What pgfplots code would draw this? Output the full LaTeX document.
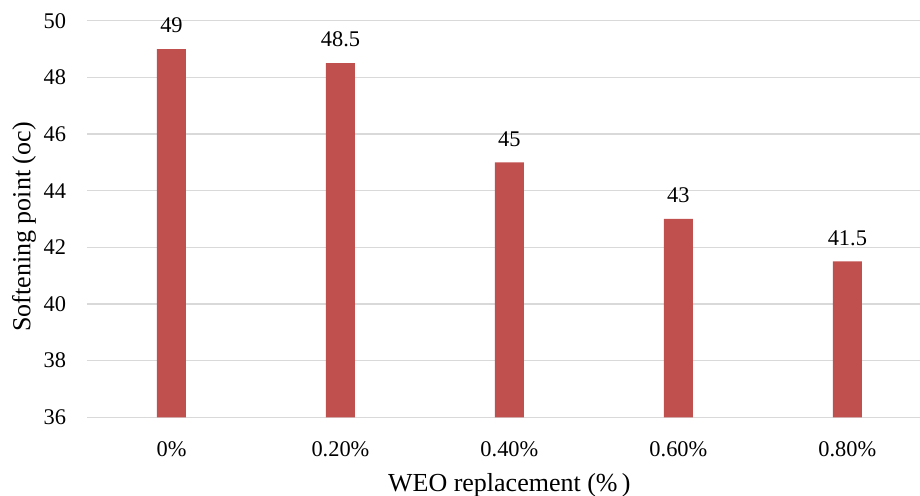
\documentclass[border=0pt]{standalone}
\usepackage{pgfplots}
\pgfplotsset{compat=1.18}
\usepackage{fontspec}
\setmainfont{Liberation Serif}
\newfontfamily\numfont{Liberation Serif}
\definecolor{barred}{HTML}{C0504D}
\definecolor{gridgray}{HTML}{D9D9D9}
\newcommand{\tickfont}{\numfont\fontsize{11.2}{13}\selectfont}
\newcommand{\titlefont}{\rmfamily\fontsize{13}{15}\selectfont}
\begin{document}
\tickfont
\begin{tikzpicture}
\useasboundingbox (0,0) rectangle (460pt,248pt);
\begin{axis}[
  at={(43.5pt,39.35pt)}, anchor=south west,
  scale only axis,
  width=416.5pt, height=198.3pt,
  ybar, bar width=14.5pt,
  xmin=-0.5, xmax=4.43,
  ymin=36, ymax=50,
  ytick={36,38,...,50},
  yticklabels={36,38,40,42,44,46,48,50},
  xtick=data,
  xticklabels={0\%,0.20\%,0.40\%,0.60\%,0.80\%},
  axis line style={draw=none},
  major tick style={draw=none},
  ymajorgrids,
  grid style={gridgray, line width=0.65pt},
  /pgf/number format/assume math mode=true,
  tick label style={font=\tickfont},
  yticklabel style={xshift=-6.5pt},
  xticklabel style={yshift=-4pt},
  ylabel={Softening point (oc)},
  xlabel={WEO replacement (\%\,)},
  label style={font=\titlefont},
  ylabel style={at={(axis description cs:0,0.48)}, anchor=center, yshift=31.5pt},
  xlabel style={at={(axis description cs:0.507,0)}, anchor=center, yshift=-33.8pt},
  nodes near coords={\tickfont\pgfplotspointmeta},
  nodes near coords style={yshift=4pt},
  point meta=explicit symbolic,
  clip=false,
]
\addplot[fill=barred, draw=none] coordinates {
  (0,49) [49]
  (1,48.5) [48.5]
  (2,45) [45]
  (3,43) [43]
  (4,41.5) [41.5]
};
\end{axis}
\end{tikzpicture}
\end{document}
